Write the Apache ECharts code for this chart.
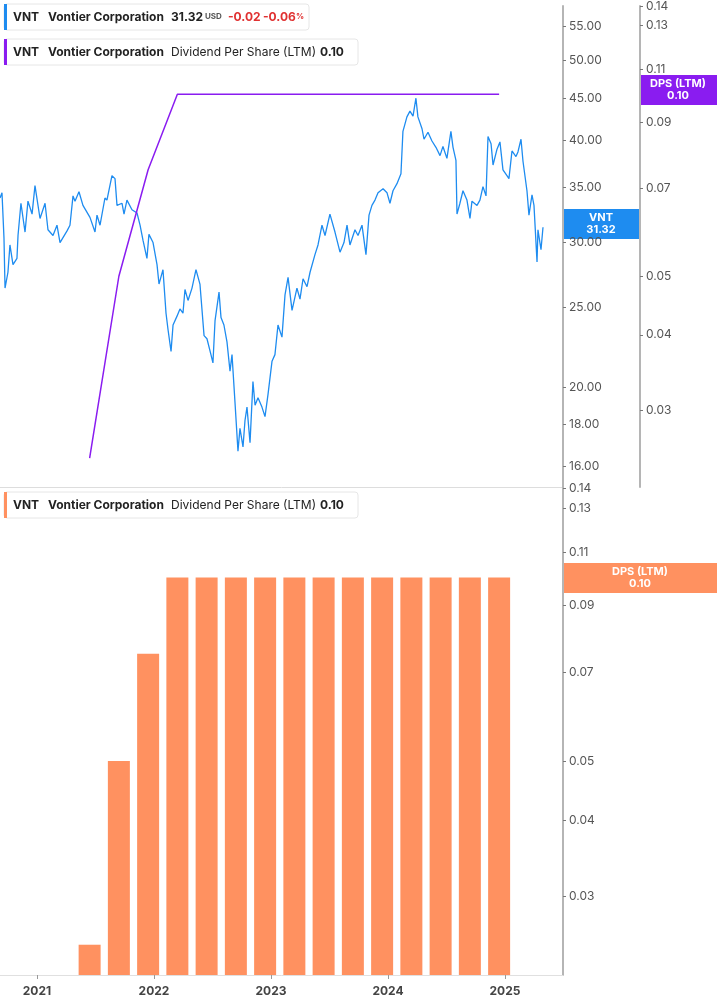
<!DOCTYPE html>
<html><head><meta charset="utf-8">
<script src="https://cdn.jsdelivr.net/npm/echarts@6/dist/echarts.min.js"></script>
<style>html,body{margin:0;padding:0;background:#fff}#c{width:717px;height:1005px}</style>
</head><body><div id="c"></div>
<script>
const priceYears=[2020.684,2020.701,2020.718,2020.727,2020.752,2020.769,2020.795,2020.829,2020.838,2020.863,2020.898,2020.923,2020.958,2020.983,2021.026,2021.069,2021.094,2021.137,2021.171,2021.197,2021.257,2021.282,2021.308,2021.325,2021.359,2021.393,2021.453,2021.496,2021.513,2021.539,2021.581,2021.598,2021.641,2021.667,2021.684,2021.727,2021.744,2021.769,2021.812,2021.855,2021.881,2021.906,2021.940,2021.957,2021.992,2022.026,2022.043,2022.077,2022.103,2022.120,2022.146,2022.163,2022.197,2022.222,2022.248,2022.265,2022.291,2022.325,2022.359,2022.393,2022.428,2022.453,2022.487,2022.504,2022.522,2022.556,2022.573,2022.598,2022.624,2022.650,2022.667,2022.692,2022.718,2022.735,2022.761,2022.778,2022.795,2022.821,2022.846,2022.864,2022.889,2022.923,2022.949,2022.975,2023.009,2023.034,2023.060,2023.094,2023.120,2023.146,2023.180,2023.222,2023.248,2023.274,2023.308,2023.334,2023.376,2023.402,2023.436,2023.462,2023.504,2023.547,2023.590,2023.624,2023.650,2023.675,2023.718,2023.744,2023.778,2023.812,2023.838,2023.863,2023.889,2023.915,2023.958,2023.992,2024.017,2024.043,2024.077,2024.111,2024.128,2024.162,2024.188,2024.214,2024.239,2024.256,2024.291,2024.308,2024.342,2024.376,2024.410,2024.445,2024.470,2024.504,2024.538,2024.556,2024.581,2024.590,2024.615,2024.641,2024.675,2024.701,2024.718,2024.761,2024.786,2024.812,2024.838,2024.855,2024.881,2024.898,2024.932,2024.957,2024.983,2025.017,2025.034,2025.060,2025.094,2025.111,2025.137,2025.154,2025.188,2025.205,2025.231,2025.248,2025.274,2025.282,2025.308,2025.325];
const prices=[34.0,34.5,30.4,26.4,27.6,29.8,28.2,28.7,30.6,33.5,30.9,33.7,32.5,35.2,32.1,33.5,31.1,30.6,31.5,30.0,31.0,31.5,34.2,33.7,34.6,33.3,32.2,30.9,32.4,31.5,34.0,33.8,36.2,35.9,33.3,33.5,32.5,33.8,32.9,32.6,31.5,30.2,28.7,30.7,30.0,28.2,26.7,27.8,24.6,23.5,22.1,23.8,24.4,24.9,24.6,26.3,25.5,26.4,27.8,26.7,23.1,22.9,21.9,21.4,24.1,26.1,24.3,23.8,22.7,20.9,21.9,19.2,16.7,17.8,16.9,18.2,18.9,17.1,20.3,19.0,19.4,18.9,18.4,19.6,21.5,21.9,23.8,23.0,25.9,27.2,24.8,26.4,25.6,27.1,26.5,27.6,29.0,29.8,31.5,30.6,32.5,30.9,29.2,30.0,31.5,29.8,31.1,30.6,31.5,29.0,32.4,33.3,33.8,34.5,34.9,34.5,33.5,34.7,35.4,36.4,41.0,42.7,43.4,42.8,45.0,42.7,41.3,40.1,40.9,39.9,39.2,38.3,39.3,38.0,41.0,39.2,37.8,32.5,33.5,34.7,33.8,32.1,33.7,33.3,33.8,35.1,34.2,40.4,39.6,37.3,39.0,39.8,36.8,36.2,35.9,38.8,38.2,38.7,40.1,37.7,34.7,32.4,34.3,33.3,28.4,31.1,29.4,31.32];
const dpsYears=[2021.45,2021.70,2021.95,2022.20,2022.45,2022.70,2022.95,2023.20,2023.45,2023.70,2023.95,2024.20,2024.45,2024.70,2024.95];
const dps=[0.025,0.05,0.075,0.10,0.10,0.10,0.10,0.10,0.10,0.10,0.10,0.10,0.10,0.10,0.10];
const yearTicks=[2021,2022,2023,2024,2025];
const priceTicks=[16,18,20,25,30,35,40,45,50,55];
const dpsTicks=[0.03,0.04,0.05,0.07,0.09,0.11,0.13,0.14];

const F='Inter, "Noto Sans", sans-serif';
const zip=(a,b)=>a.map((v,i)=>[v,b[i]]);
const axisCol='#b5b5b5';
const lbl={color:'#555',fontSize:12,fontFamily:F};
function yAx(grid,min,max,ticks,offset,fmt){
  return {type:'log',gridIndex:grid,position:'right',offset:offset,min:min,max:max,
    axisLine:{show:true,lineStyle:{color:axisCol,width:2}},
    axisTick:{show:true,length:3,lineStyle:{color:'#777'},customValues:ticks},
    axisLabel:Object.assign({},lbl,{margin:6,customValues:ticks,formatter:v=>Number(v).toFixed(fmt)}),
    splitLine:{show:false}};
}
const xMin=2020.684,xMax=2025.496;
const bMin=0.0223;
const chart=echarts.init(document.getElementById('c'),null,{renderer:'canvas'});
function legend(y,color,parts){
  const els=[{type:'rect',shape:{x:4,y:y,width:parts.w,height:26,r:3},style:{fill:'#fff',stroke:'#e6e6e6'}},
    {type:'rect',shape:{x:4,y:y,width:3,height:26},style:{fill:color}}];
  parts.items.forEach(p=>els.push({type:'text',x:p[0],y:y+13,style:{text:p[1],font:p[2]+' '+F,fill:p[3]||'#222',verticalAlign:'middle'}}));
  return els;
}
chart.setOption({
  animation:false,
  grid:[{left:0,right:154,top:0,height:487},{left:0,right:154,top:487,height:488}],
  xAxis:[
    {type:'value',gridIndex:0,min:xMin,max:xMax,show:false},
    {type:'value',gridIndex:1,min:xMin,max:xMax,
      axisLine:{show:true,lineStyle:{color:'#e0e0e0'}},
      axisTick:{show:true,length:4,lineStyle:{color:'#999'},customValues:yearTicks},
      axisLabel:Object.assign({},lbl,{fontWeight:'bold',color:'#444',margin:10,customValues:yearTicks,formatter:v=>String(Math.round(v))}),
      splitLine:{show:false}}
  ],
  yAxis:[
    yAx(0,15.1,58.3,priceTicks,0,2),
    yAx(0,0.0224,0.140,dpsTicks,77,2),
    yAx(1,bMin,0.1407,dpsTicks,0,2)
  ],
  series:[
    {type:'line',xAxisIndex:0,yAxisIndex:0,data:zip(priceYears,prices),showSymbol:false,lineStyle:{color:'#1e8cf0',width:1.3}},
    {type:'line',xAxisIndex:0,yAxisIndex:1,data:zip(dpsYears,dps),showSymbol:false,lineStyle:{color:'#8a1cf0',width:1.5}},
    {type:'custom',xAxisIndex:1,yAxisIndex:2,data:zip(dpsYears,dps),
      renderItem:(params,api)=>{
        const top=api.coord([api.value(0),api.value(1)]);
        const bot=api.coord([api.value(0),bMin]);
        return {type:'rect',shape:{x:top[0]-11,y:top[1],width:22,height:bot[1]-top[1]},style:{fill:'#ff9160'}};
      }}
  ],
  graphic:[
    {type:'line',shape:{x1:0,y1:487.5,x2:563,y2:487.5},style:{stroke:'#ddd',lineWidth:1}},
    {type:'rect',shape:{x:563,y:209,width:77,height:30},style:{fill:'#1e8cf0'}},
    {type:'text',x:601,y:224,style:{text:'VNT\n31.32',fill:'#fff',font:'bold 11px '+F,align:'center',verticalAlign:'middle',lineHeight:12}},
    {type:'rect',shape:{x:640,y:75,width:77,height:30},style:{fill:'#8a1cf0'}},
    {type:'text',x:678,y:90,style:{text:'DPS (LTM)\n0.10',fill:'#fff',font:'bold 11px '+F,align:'center',verticalAlign:'middle',lineHeight:12}},
    {type:'rect',shape:{x:563,y:563,width:154,height:30},style:{fill:'#ff9160'}},
    {type:'text',x:640,y:578,style:{text:'DPS (LTM)\n0.10',fill:'#fff',font:'bold 11px '+F,align:'center',verticalAlign:'middle',lineHeight:12}}
  ].concat(
    legend(4,'#1e8cf0',{w:305,items:[[13,'VNT','bold 12px'],[48,'Vontier Corporation','bold 12px'],[171,'31.32','bold 12px'],[205,'USD','bold 8px','#555'],[228,'-0.02','bold 12px','#e03131'],[263,'-0.06','bold 12px','#e03131'],[296,'%','bold 8px','#e03131']]}),
    legend(39,'#8a1cf0',{w:354,items:[[13,'VNT','bold 12px'],[48,'Vontier Corporation','bold 12px'],[171,'Dividend Per Share (LTM)','12px'],[320,'0.10','bold 12px']]}),
    legend(492,'#ff9160',{w:354,items:[[13,'VNT','bold 12px'],[48,'Vontier Corporation','bold 12px'],[171,'Dividend Per Share (LTM)','12px'],[320,'0.10','bold 12px']]})
  )
});
</script></body></html>
